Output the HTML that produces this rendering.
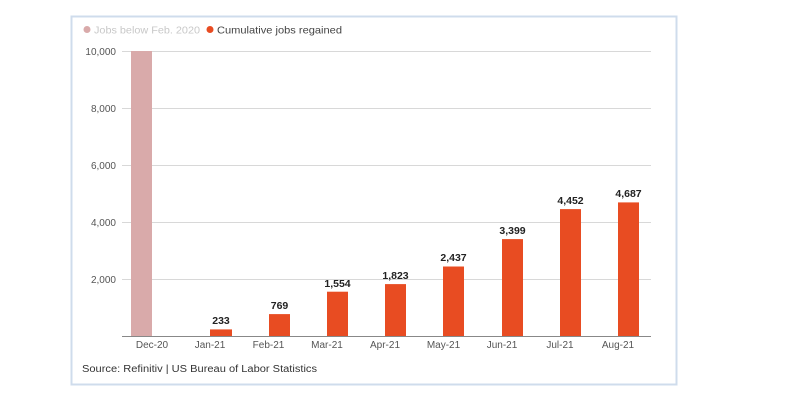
<!DOCTYPE html>
<html><head><style>
body{margin:0;width:787px;height:406px;background:#fff;overflow:hidden;font-family:"Liberation Sans",sans-serif}
</style></head><body>
<svg width="787" height="406" xmlns="http://www.w3.org/2000/svg" font-family="Liberation Sans, sans-serif">
<rect x="71.5" y="16.5" width="605" height="368" fill="#fff" stroke="#cfdcec" stroke-width="2"/>
<circle cx="87" cy="29.5" r="3.5" fill="#d9aaaa"/>
<text x="94" y="33.5" font-size="10.5" fill="#c8c8c8" textLength="106" lengthAdjust="spacingAndGlyphs">Jobs below Feb. 2020</text>
<circle cx="210" cy="29.5" r="3.5" fill="#e84c22"/>
<text x="217" y="33.5" font-size="10.5" fill="#444" textLength="125" lengthAdjust="spacingAndGlyphs">Cumulative jobs regained</text>
<g stroke="#d8d8d8" stroke-width="1">
<line x1="122" y1="51.5" x2="651" y2="51.5"/>
<line x1="122" y1="108.5" x2="651" y2="108.5"/>
<line x1="122" y1="165.5" x2="651" y2="165.5"/>
<line x1="122" y1="222.5" x2="651" y2="222.5"/>
<line x1="122" y1="279.5" x2="651" y2="279.5"/>
</g>
<g font-size="10" fill="#555" text-anchor="end">
<text x="116" y="55">10,000</text><text x="116" y="112">8,000</text>
<text x="116" y="169">6,000</text><text x="116" y="226">4,000</text>
<text x="116" y="283">2,000</text>
</g>
<rect x="131" y="51" width="21" height="285" fill="#d9aaaa"/>
<g fill="#e84c22">
<rect x="210" y="329.4" width="22" height="6.6"/>
<rect x="269" y="314.1" width="21" height="21.9"/>
<rect x="327" y="291.7" width="21" height="44.3"/>
<rect x="385" y="284.1" width="21" height="51.9"/>
<rect x="443" y="266.5" width="21" height="69.5"/>
<rect x="502" y="239.1" width="21" height="96.9"/>
<rect x="560" y="209.1" width="21" height="126.9"/>
<rect x="618" y="202.4" width="21" height="133.6"/>
</g>
<line x1="122" y1="336.5" x2="651" y2="336.5" stroke="#888" stroke-width="1"/>
<g font-size="10.5" font-weight="bold" fill="#222" text-anchor="middle">
<text x="221" y="324">233</text><text x="279.5" y="309">769</text>
<text x="337.5" y="287">1,554</text><text x="395.5" y="279">1,823</text>
<text x="453.5" y="261">2,437</text><text x="512.5" y="234">3,399</text>
<text x="570.5" y="204">4,452</text><text x="628.5" y="197">4,687</text>
</g>
<g font-size="10" fill="#555" text-anchor="middle">
<text x="152" y="348">Dec-20</text><text x="210" y="348">Jan-21</text>
<text x="268.5" y="348">Feb-21</text><text x="327" y="348">Mar-21</text>
<text x="385" y="348">Apr-21</text><text x="443.5" y="348">May-21</text>
<text x="502" y="348">Jun-21</text><text x="560" y="348">Jul-21</text>
<text x="618" y="348">Aug-21</text>
</g>
<text x="82" y="372" font-size="10" fill="#333" textLength="235" lengthAdjust="spacingAndGlyphs">Source: Refinitiv | US Bureau of Labor Statistics</text>
</svg>
</body></html>
